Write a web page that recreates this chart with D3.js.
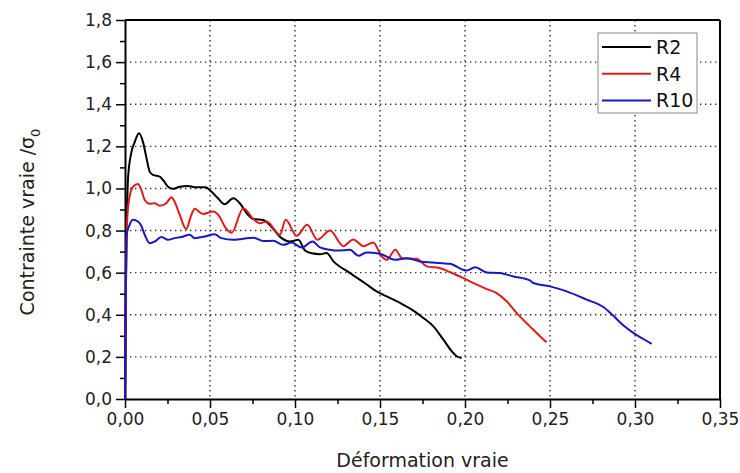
<!DOCTYPE html>
<html>
<head>
<meta charset="utf-8">
<script src="https://cdn.jsdelivr.net/npm/d3@7"></script>
<style>
  body { margin: 0; background: #fff; }
  svg { font-family: "DejaVu Sans", Arial, sans-serif; }
</style>
</head>
<body>
<div id="chart"></div>
<script>
var seriesNames = ["R2", "R4", "R10"]
var seriesColors = ["#000000", "#e01c1c", "#1717c4"]

var xTicks = [0, 0.05, 0.10, 0.15, 0.20, 0.25, 0.30, 0.35]
var yTicks = [0, 0.2, 0.4, 0.6, 0.8, 1.0, 1.2, 1.4, 1.6, 1.8]

// [deformation, contrainte / sigma0]
var r2 = [[0,0],[0.0005,0.5],[0.001,0.8],[0.0018,1.05],[0.0037,1.17],[0.0057,1.22],[0.0082,1.262],
  [0.0106,1.22],[0.0125,1.15],[0.0145,1.08],[0.0165,1.064],[0.0204,1.056],[0.0224,1.04],[0.0253,1.008],
  [0.0282,0.998],[0.0322,1.008],[0.037,1.012],[0.041,1.006],[0.0473,1.006],[0.0508,0.985],[0.0547,0.953],
  [0.0586,0.925],[0.0637,0.953],[0.068,0.925],[0.0716,0.882],[0.0755,0.855],[0.0814,0.85],[0.0853,0.825],
  [0.0912,0.77],[0.097,0.748],[0.102,0.756],[0.1059,0.705],[0.1098,0.692],[0.1147,0.688],[0.1186,0.693],
  [0.1225,0.655],[0.1324,0.598],[0.142,0.545],[0.148,0.511],[0.154,0.487],[0.1618,0.456],[0.1696,0.42],
  [0.1755,0.385],[0.1814,0.345],[0.1873,0.282],[0.1922,0.227],[0.1951,0.203],[0.198,0.195]]

var r4 = [[0,0],[0.0005,0.5],[0.0014,0.866],[0.0027,0.961],[0.0047,1.008],[0.0076,1.021],[0.0096,0.993],
  [0.0116,0.945],[0.0145,0.927],[0.0175,0.93],[0.0204,0.918],[0.0243,0.93],[0.0273,0.958],[0.0292,0.937],
  [0.0322,0.874],[0.036,0.807],[0.039,0.874],[0.041,0.903],[0.0459,0.879],[0.0518,0.89],[0.0557,0.865],
  [0.0586,0.82],[0.0627,0.79],[0.0696,0.906],[0.0755,0.855],[0.0794,0.835],[0.0833,0.843],[0.0912,0.78],
  [0.0945,0.851],[0.101,0.775],[0.1072,0.827],[0.1132,0.756],[0.1206,0.8],[0.1284,0.726],[0.1343,0.758],
  [0.1402,0.726],[0.146,0.743],[0.151,0.677],[0.154,0.661],[0.159,0.709],[0.163,0.669],[0.1716,0.666],
  [0.1775,0.63],[0.185,0.622],[0.191,0.603],[0.199,0.574],[0.207,0.543],[0.2128,0.522],[0.2186,0.503],
  [0.2245,0.464],[0.2304,0.408],[0.2382,0.345],[0.2441,0.298],[0.248,0.269]]

var r10 = [[0,0],[0.0003,0.4],[0.0008,0.772],[0.0027,0.827],[0.0047,0.851],[0.0076,0.843],[0.0096,0.822],
  [0.0116,0.78],[0.0145,0.74],[0.0175,0.748],[0.0214,0.769],[0.0253,0.756],[0.0292,0.764],[0.0331,0.769],
  [0.038,0.78],[0.041,0.764],[0.0468,0.772],[0.0527,0.783],[0.0567,0.764],[0.0637,0.756],[0.0755,0.766],
  [0.0814,0.75],[0.0873,0.751],[0.093,0.732],[0.098,0.743],[0.104,0.719],[0.1103,0.748],[0.1147,0.72],
  [0.1206,0.709],[0.1245,0.705],[0.1324,0.709],[0.1373,0.68],[0.142,0.696],[0.15,0.69],[0.1588,0.661],
  [0.1657,0.669],[0.1735,0.653],[0.181,0.648],[0.191,0.642],[0.201,0.61],[0.2059,0.626],[0.2128,0.601],
  [0.2206,0.598],[0.2284,0.582],[0.2382,0.563],[0.2402,0.551],[0.25,0.535],[0.2598,0.511],[0.2716,0.472],
  [0.2814,0.437],[0.2873,0.395],[0.2931,0.35],[0.299,0.314],[0.3049,0.285],[0.3098,0.262]]

var seriesData = [r2, r4, r10]

var margin = {top: 20, right: 20, bottom: 74, left: 125},
    width  = 740 - margin.left - margin.right,
    height = 473 - margin.top - margin.bottom

var svg = d3.select("#chart").append("svg")
  .attr("width", 740)
  .attr("height", 473)

var g = svg.append("g")
  .attr("transform", "translate(" + margin.left + "," + margin.top + ")")

var x = d3.scaleLinear().domain([0, 0.35]).range([0, width])
var y = d3.scaleLinear().domain([0, 1.8]).range([height, 0])

var commaFmt = d => d3.format(".2f")(d).replace(".", ",")
var commaFmt1 = d => d3.format(".1f")(d).replace(".", ",")

// dotted grid
g.append("g").selectAll("line")
  .data(xTicks.slice(1, -1))
  .join("line")
    .attr("x1", d => x(d)).attr("x2", d => x(d))
    .attr("y1", 0).attr("y2", height)
    .attr("stroke", "#333")
    .attr("stroke-width", 1.4)
    .attr("stroke-dasharray", "1.4,3.6")

g.append("g").selectAll("line")
  .data(yTicks.slice(1, -1))
  .join("line")
    .attr("x1", 0).attr("x2", width)
    .attr("y1", d => y(d)).attr("y2", d => y(d))
    .attr("stroke", "#333")
    .attr("stroke-width", 1.4)
    .attr("stroke-dasharray", "1.4,3.6")

// minor ticks
var xMinor = d3.range(0.025, 0.35, 0.05)
var yMinor = d3.range(0.1, 1.8, 0.2)

g.append("g")
  .attr("transform", "translate(0," + height + ")")
  .call(d3.axisBottom(x).tickValues(xMinor).tickSize(5).tickFormat(""))
  .call(a => a.select(".domain").remove())
  .selectAll("line").attr("stroke-width", 1.5)

g.append("g")
  .call(d3.axisLeft(y).tickValues(yMinor).tickSize(5).tickFormat(""))
  .call(a => a.select(".domain").remove())
  .selectAll("line").attr("stroke-width", 1.5)

// major axes
var xAxis = g.append("g")
  .attr("transform", "translate(0," + height + ")")
  .call(d3.axisBottom(x).tickValues(xTicks).tickSize(9).tickSizeOuter(0).tickPadding(5).tickFormat(commaFmt))

var yAxis = g.append("g")
  .call(d3.axisLeft(y).tickValues(yTicks).tickSize(9).tickSizeOuter(0).tickPadding(4).tickFormat(commaFmt1))

;[xAxis, yAxis].forEach(a => {
  a.select(".domain").attr("stroke-width", 2)
  a.selectAll(".tick line").attr("stroke-width", 1.5)
  a.selectAll("text").attr("font-size", 17).attr("fill", "#222")
    .style("font-family", "'DejaVu Sans', Arial, sans-serif")
})

// frame top / right
g.append("line").attr("x1", 0).attr("x2", width).attr("y1", 0).attr("y2", 0)
  .attr("stroke", "#000").attr("stroke-width", 2)
g.append("line").attr("x1", width).attr("x2", width).attr("y1", 0).attr("y2", height)
  .attr("stroke", "#000").attr("stroke-width", 2)

// curves
var line = d3.line()
  .x(d => x(d[0]))
  .y(d => y(d[1]))
  .curve(d3.curveMonotoneX)

g.append("g").selectAll("path")
  .data(seriesData)
  .join("path")
    .attr("fill", "none")
    .attr("stroke", (d, i) => seriesColors[i])
    .attr("stroke-width", 2)
    .attr("stroke-linejoin", "round")
    .attr("d", d => line(d))

// legend
var legend = svg.append("g").attr("transform", "translate(598,33)")
legend.append("rect")
  .attr("width", 99).attr("height", 80)
  .attr("fill", "#fff").attr("stroke", "#888").attr("stroke-width", 1)

seriesNames.forEach((name, i) => {
  var ly = 14 + i * 26.7
  legend.append("line")
    .attr("x1", 4).attr("x2", 53).attr("y1", ly).attr("y2", ly)
    .attr("stroke", seriesColors[i]).attr("stroke-width", 2)
  legend.append("text")
    .attr("x", 58).attr("y", ly + 7)
    .attr("font-size", 19).attr("fill", "#111")
    .text(name)
})

// axis titles
svg.append("text")
  .attr("x", margin.left + width / 2)
  .attr("y", 467)
  .attr("text-anchor", "middle")
  .attr("font-size", 19).attr("fill", "#222")
  .text("Déformation vraie")

var yt = svg.append("text")
  .attr("transform", "translate(34,222) rotate(-90)")
  .attr("text-anchor", "middle")
  .attr("font-size", 19).attr("fill", "#222")
yt.append("tspan").text("Contrainte vraie /σ")
yt.append("tspan").attr("font-size", 13).attr("dy", 6).text("0")
</script>
</body>
</html>
